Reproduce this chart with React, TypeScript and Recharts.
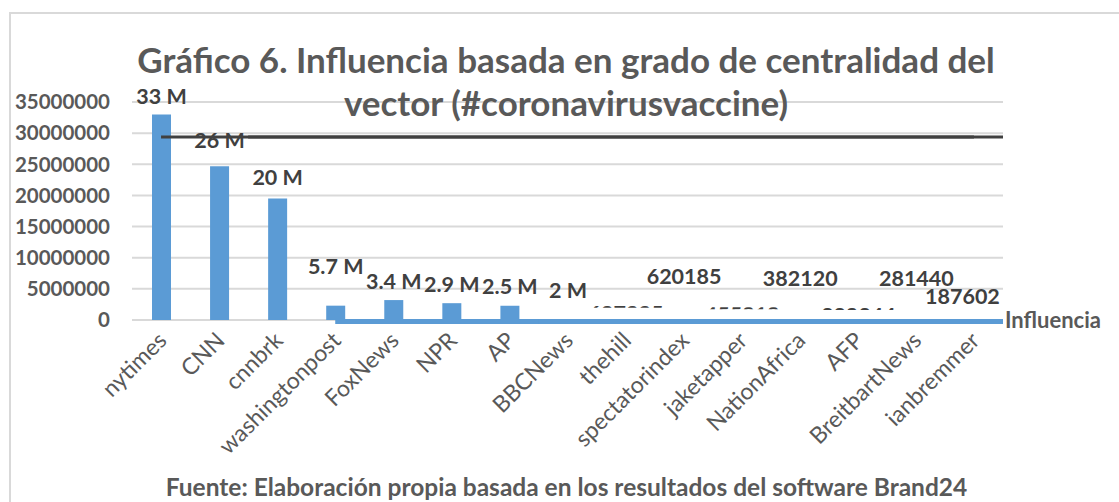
import { BarChart, Bar, XAxis, YAxis, CartesianGrid, LabelList, ReferenceLine } from "recharts";

const categories = [
  "nytimes",
  "CNN",
  "cnnbrk",
  "washingtonpost",
  "FoxNews",
  "NPR",
  "AP",
  "BBCNews",
  "thehill",
  "spectatorindex",
  "jaketapper",
  "NationAfrica",
  "AFP",
  "BreitbartNews",
  "ianbremmer",
];

// bar heights as they appear in the picture
const influencia = [
  33000000, 24700000, 19500000, 2300000, 3200000, 2700000, 2300000, 120000, 100000, 90000, 80000,
  70000, 60000, 50000, 40000,
];

// data labels (text and value)
const labelTexts = [
  "33 M", "26 M", "20 M", "5.7 M", "3.4 M", "2.9 M", "2.5 M", "2 M",
  "687225", "620185", "455812", "382120", "338344", "281440", "187602",
];
const labelValues = [
  33000000, 26000000, 20000000, 5700000, 3400000, 2900000, 2500000, 2000000,
  687225, 620185, 455812, 382120, 338344, 281440, 187602,
];

const yTicks = [0, 5000000, 10000000, 15000000, 20000000, 25000000, 30000000, 35000000];

const blackLineValue = 29400000;
const blueLineValue = -250000;

const data = categories.map((name, i) => ({
  name,
  influencia: influencia[i],
  etiqueta: labelValues[i],
  texto: labelTexts[i],
}));

const GREY = "#595959";
const DARK = "#404040";
const BLUE = "#5b9bd5";
const FONT = "Lato, 'Open Sans', sans-serif";

function XTick(props: any) {
  const { x, y, payload } = props;
  return (
    <g transform={`translate(${x + 7},${y + 14}) rotate(-45)`}>
      <text x={0} y={0} textAnchor="end" fill={GREY} fontSize={23} fontFamily={FONT}>
        {payload.value}
      </text>
    </g>
  );
}

function renderLabel(props: any) {
  const { x, y, width, value, index } = props;
  const cx = x + width / 2;
  const common = {
    x: cx,
    textAnchor: "middle" as const,
    dominantBaseline: "central" as const,
    fill: DARK,
    fontSize: 21.5,
    fontWeight: 700,
    fontFamily: FONT,
  };

  if (index === 8 || index === 10 || index === 12) {
    // mostly hidden labels: only a sliver is visible
    const id = `clip-lbl-${index}`;
    return (
      <g key={id}>
        <defs>
          <clipPath id={id}>
            <rect x={cx - 45} y={y - 10} width={90} height={2} />
          </clipPath>
        </defs>
        <text {...common} y={y - 3} clipPath={`url(#${id})`}>
          {value}
        </text>
      </g>
    );
  }

  let ty = y - 18;
  if (index === 9 || index === 11 || index === 13) ty = y - 40;
  if (index === 14) {
    return (
      <text key={`lbl-${index}`} {...common} x={cx - 12} y={y - 23}>
        {value}
      </text>
    );
  }

  return (
    <text key={`lbl-${index}`} {...common} y={ty}>
      {value}
    </text>
  );
}

export default function App() {
  return (
    <div
      style={{
        position: "fixed",
        left: 0,
        top: 0,
        width: 1119,
        height: 502,
        overflow: "hidden",
        background: "#fff",
        fontFamily: FONT,
      }}
    >
      {/* frame */}
      <div
        style={{
          position: "absolute",
          left: 9,
          top: 12,
          width: 1300,
          height: 700,
          borderTop: "2px solid #d9d9d9",
          borderLeft: "2px solid #d9d9d9",
        }}
      />

      <div style={{ position: "absolute", left: 0, top: 0 }}>
        <BarChart
          width={1119}
          height={502}
          data={data}
          margin={{ top: 102, right: 116, bottom: 0, left: 12 }}
        >
          <CartesianGrid vertical={false} stroke="#d9d9d9" strokeWidth={2} />
          <XAxis
            dataKey="name"
            interval={0}
            height={182}
            axisLine={false}
            tickLine={false}
            tick={<XTick />}
          />
          <XAxis xAxisId="lbl" dataKey="name" hide />
          <YAxis
            domain={[0, 35000000]}
            ticks={yTicks}
            width={120}
            axisLine={false}
            tickLine={false}
            tickMargin={16}
            tick={{ fill: GREY, fontSize: 20.5, fontWeight: 700, fontFamily: FONT }}
          />
          <ReferenceLine
            segment={[
              { x: "nytimes", y: blackLineValue },
              { x: "ianbremmer", y: blackLineValue },
            ]}
            stroke={DARK}
            strokeWidth={3}
            position="middle"
            ifOverflow="visible"
          />
          <ReferenceLine
            segment={[
              { x: "CNN", y: blackLineValue },
              { x: "ianbremmer", y: blackLineValue },
            ]}
            stroke={DARK}
            strokeWidth={3}
            position="end"
            ifOverflow="visible"
          />
          <ReferenceLine
            segment={[
              { x: "washingtonpost", y: blueLineValue },
              { x: "BBCNews", y: blueLineValue },
            ]}
            stroke={BLUE}
            strokeWidth={5}
            position="middle"
            ifOverflow="visible"
          />
          <ReferenceLine
            segment={[
              { x: "AP", y: blueLineValue },
              { x: "ianbremmer", y: blueLineValue },
            ]}
            stroke={BLUE}
            strokeWidth={5}
            position="end"
            ifOverflow="visible"
          />
          <Bar dataKey="influencia" fill={BLUE} barSize={19} isAnimationActive={false} />
          <Bar
            dataKey="etiqueta"
            xAxisId="lbl"
            fill="none"
            barSize={19}
            isAnimationActive={false}
          >
            <LabelList dataKey="texto" content={renderLabel} />
          </Bar>
        </BarChart>
      </div>

      {/* title */}
      <div
        style={{
          position: "absolute",
          left: 0,
          top: 38,
          width: 1132,
          textAlign: "center",
          fontSize: 35,
          fontWeight: 700,
          lineHeight: "43px",
          color: GREY,
        }}
      >
        Gráfico 6. Influencia basada en grado de centralidad del
        <br />
        vector (#coronavirusvaccine)
      </div>

      {/* legend */}
      <div
        style={{
          position: "absolute",
          left: 1005,
          top: 307,
          fontSize: 22,
          fontWeight: 700,
          lineHeight: "26px",
          color: GREY,
        }}
      >
        Influencia
      </div>

      {/* footer */}
      <div
        style={{
          position: "absolute",
          left: 0,
          top: 472,
          width: 1133,
          textAlign: "center",
          fontSize: 24.5,
          fontWeight: 700,
          lineHeight: "30px",
          color: GREY,
        }}
      >
        Fuente: Elaboración propia basada en los resultados del software Brand24
      </div>
    </div>
  );
}
